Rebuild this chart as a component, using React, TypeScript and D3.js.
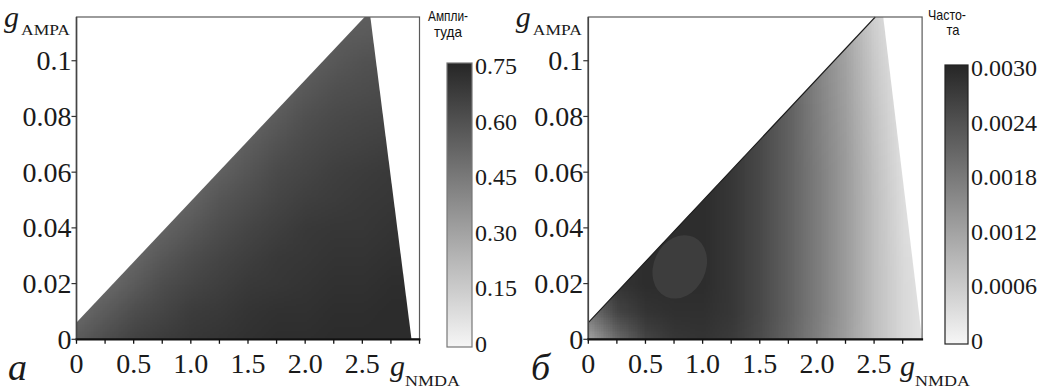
import React, { useMemo } from 'react';
import * as d3 from 'd3';

// sampling grid of both maps: g_NMDA (columns) x g_AMPA (rows, bottom row first)
const gridX = [0, 0.25, 0.5, 0.75, 1.0, 1.25, 1.5, 1.75, 2.0, 2.25, 2.5, 2.75, 3.0];
const gridY = [0, 0.01, 0.02, 0.03, 0.04, 0.05, 0.06, 0.07, 0.08, 0.09, 0.1, 0.11, 0.12];

// amplitude
const amplitude = [
  [0.56, 0.61, 0.65, 0.67, 0.69, 0.7, 0.71, 0.72, 0.72, 0.73, 0.73, 0.73, 0.73],
  [0.51, 0.56, 0.61, 0.64, 0.67, 0.68, 0.7, 0.71, 0.71, 0.72, 0.72, 0.73, 0.73],
  [0.49, 0.51, 0.56, 0.61, 0.64, 0.66, 0.68, 0.69, 0.7, 0.71, 0.71, 0.72, 0.72],
  [0.49, 0.49, 0.52, 0.57, 0.61, 0.64, 0.66, 0.68, 0.69, 0.7, 0.7, 0.71, 0.71],
  [0.49, 0.49, 0.49, 0.53, 0.57, 0.61, 0.64, 0.66, 0.68, 0.69, 0.69, 0.7, 0.7],
  [0.49, 0.49, 0.49, 0.5, 0.53, 0.58, 0.61, 0.64, 0.66, 0.67, 0.68, 0.69, 0.69],
  [0.49, 0.49, 0.49, 0.49, 0.5, 0.54, 0.58, 0.62, 0.64, 0.66, 0.67, 0.68, 0.68],
  [0.49, 0.49, 0.49, 0.49, 0.49, 0.51, 0.55, 0.59, 0.62, 0.64, 0.65, 0.66, 0.66],
  [0.49, 0.49, 0.49, 0.49, 0.49, 0.49, 0.52, 0.56, 0.6, 0.62, 0.63, 0.64, 0.64],
  [0.49, 0.49, 0.49, 0.49, 0.49, 0.49, 0.5, 0.53, 0.57, 0.6, 0.61, 0.62, 0.62],
  [0.49, 0.49, 0.49, 0.49, 0.49, 0.49, 0.49, 0.51, 0.54, 0.57, 0.59, 0.6, 0.6],
  [0.49, 0.49, 0.49, 0.49, 0.49, 0.49, 0.49, 0.49, 0.52, 0.55, 0.56, 0.57, 0.57],
  [0.49, 0.49, 0.49, 0.49, 0.49, 0.49, 0.49, 0.49, 0.5, 0.53, 0.54, 0.55, 0.55],
];

const frequency = [
  [1.2, 2.0, 2.55, 2.75, 2.8, 2.7, 2.45, 2.1, 1.7, 1.25, 0.8, 0.42, 0.2],
  [1.9, 2.55, 2.8, 2.85, 2.85, 2.75, 2.5, 2.15, 1.75, 1.3, 0.8, 0.42, 0.2],
  [2.4, 2.8, 2.9, 2.9, 2.9, 2.75, 2.5, 2.15, 1.75, 1.3, 0.8, 0.42, 0.2],
  [2.5, 2.8, 2.9, 2.9, 2.9, 2.75, 2.5, 2.15, 1.75, 1.3, 0.8, 0.4, 0.18],
  [2.5, 2.8, 2.9, 2.9, 2.9, 2.75, 2.5, 2.15, 1.75, 1.3, 0.8, 0.38, 0.15],
  [2.5, 2.8, 2.9, 2.9, 2.9, 2.75, 2.5, 2.15, 1.75, 1.3, 0.8, 0.36, 0.12],
  [2.5, 2.8, 2.9, 2.9, 2.9, 2.75, 2.5, 2.15, 1.75, 1.3, 0.78, 0.33, 0.1],
  [2.5, 2.8, 2.9, 2.9, 2.9, 2.75, 2.5, 2.15, 1.72, 1.28, 0.75, 0.3, 0.1],
  [2.5, 2.8, 2.9, 2.9, 2.9, 2.75, 2.5, 2.15, 1.7, 1.25, 0.72, 0.27, 0.1],
  [2.5, 2.8, 2.9, 2.9, 2.9, 2.75, 2.5, 2.15, 1.68, 1.22, 0.68, 0.24, 0.1],
  [2.5, 2.8, 2.9, 2.9, 2.9, 2.75, 2.5, 2.15, 1.65, 1.2, 0.64, 0.2, 0.1],
  [2.5, 2.8, 2.9, 2.9, 2.9, 2.75, 2.5, 2.15, 1.62, 1.15, 0.58, 0.18, 0.1],
  [2.5, 2.8, 2.9, 2.9, 2.9, 2.75, 2.5, 2.15, 1.6, 1.1, 0.52, 0.15, 0.1],
];

// borders of the oscillation region
const ampUpperEdge = [[0, 0.006], [2.52, 0.1157]];
const ampRightEdge = [[2.57, 0.1157], [2.93, 0]];
const freqUpperEdge = [[0, 0.006], [2.51, 0.1157]];
const freqRightEdge = [[2.58, 0.1157], [2.92, 0]];

// flat patch inside the frequency map: centre, half axes, tilt, level (x 1e-3)
const freqPlateau = { x: 0.8, y: 0.026, rx: 0.227, ry: 0.0118, angle: 25, value: 2.67 };

const xTicks = [0, 0.5, 1.0, 1.5, 2.0, 2.5];
const xTickLabels = ['0', '0.5', '1.0', '1.5', '2.0', '2.5'];
const yTicks = [0, 0.02, 0.04, 0.06, 0.08, 0.1];
const yTickLabels = ['0', '0.02', '0.04', '0.06', '0.08', '0.1'];
const ampBarTicks = [0, 0.15, 0.3, 0.45, 0.6, 0.75];
const ampBarLabels = ['0', '0.15', '0.30', '0.45', '0.60', '0.75'];
const freqBarTicks = [0, 0.6, 1.2, 1.8, 2.4, 3.0];
const freqBarLabels = ['0', '0.0006', '0.0012', '0.0018', '0.0024', '0.0030'];

const SERIF = "'Liberation Serif', 'Times New Roman', Tinos, 'DejaVu Serif', serif";
const SANS = "'Liberation Sans', Arial, 'DejaVu Sans', sans-serif";
const Y_MAX = 0.1157;
const TOP = 17;
const BOTTOM = 339.3;

const makeColor = (max: number) =>
  d3.scaleLinear<string>().domain([0, max]).range(['#f6f6f6', '#262626']).clamp(true);

// tiny bitmap, one pixel per grid node; the browser smooths it when stretched
function fieldImage(grid: number[][], color: (v: number) => string) {
  const ny = grid.length;
  const nx = grid[0].length;
  const canvas = document.createElement('canvas');
  canvas.width = nx;
  canvas.height = ny;
  const ctx = canvas.getContext('2d')!;
  const img = ctx.createImageData(nx, ny);
  for (let r = 0; r < ny; r++) {
    const row = grid[ny - 1 - r];
    for (let c = 0; c < nx; c++) {
      const col = d3.rgb(color(row[c]));
      const k = (r * nx + c) * 4;
      img.data[k] = col.r;
      img.data[k + 1] = col.g;
      img.data[k + 2] = col.b;
      img.data[k + 3] = 255;
    }
  }
  ctx.putImageData(img, 0, 0);
  return canvas.toDataURL();
}

interface PanelProps {
  id: string;
  x0: number;
  x1: number;
  xMax: number;
  grid: number[][];
  cmax: number;
  upper: number[][];
  rightEdge: number[][];
  outline?: boolean;
  plateau?: typeof freqPlateau;
  letter: string;
  letterX: number;
  nmdaX: number;
  bar: {
    x: number; top: number; bottom: number; w: number; ticks: number[]; labels: string[];
    title: string[]; titleX: number[]; titleY: number[]; titleW: number[]; stroke: string;
  };
}

const Panel: React.FC<PanelProps> = ({ id, x0, x1, xMax, grid, cmax, upper, rightEdge, outline, plateau, letter, letterX, nmdaX, bar }) => {
  const xs = d3.scaleLinear().domain([0, xMax]).range([x0, x1]);
  const ys = d3.scaleLinear().domain([0, Y_MAX]).range([BOTTOM, TOP]);
  const color = makeColor(cmax);
  const href = useMemo(() => fieldImage(grid, color), [grid, cmax]);

  const dx = xs(gridX[1]) - xs(gridX[0]);
  const dy = ys(gridY[0]) - ys(gridY[1]);
  const region = [...upper, ...rightEdge, [0, 0]];
  const line = d3.line<number[]>().x(d => xs(d[0])).y(d => ys(d[1]));
  const minor = d3.range(0, xMax + 1e-6, 0.25);

  const bs = d3.scaleLinear().domain([0, cmax]).range([bar.bottom, bar.top]);
  const stops = d3.range(0, 1.0001, 0.1);

  const serif = { fontFamily: SERIF };

  return (
    <g>
      <defs>
        <clipPath id={`clip-${id}`}>
          <path d={line(region as number[][])! + 'Z'} />
        </clipPath>
        <linearGradient id={`grad-${id}`} x1="0" y1="1" x2="0" y2="0">
          {stops.map(t => (
            <stop key={t} offset={t} stopColor={color(t * cmax)} />
          ))}
        </linearGradient>
      </defs>

      <g clipPath={`url(#clip-${id})`}>
        <image
          href={href}
          x={xs(gridX[0]) - dx / 2}
          y={ys(gridY[gridY.length - 1]) - dy / 2}
          width={dx * gridX.length}
          height={dy * gridY.length}
          preserveAspectRatio="none"
        />
        {plateau && (
          <ellipse
            cx={xs(plateau.x)}
            cy={ys(plateau.y)}
            rx={xs(plateau.rx) - xs(0)}
            ry={ys(0) - ys(plateau.ry)}
            transform={`rotate(${plateau.angle} ${xs(plateau.x)} ${ys(plateau.y)})`}
            fill={color(plateau.value)}
          />
        )}
      </g>
      {outline && <path d={line(upper)!} fill="none" stroke="#1a1a1a" strokeWidth={1.1} />}

      {/* frame and axes */}
      <rect x={x0} y={TOP} width={x1 - x0} height={BOTTOM - TOP} fill="none" stroke="#5a5a5a" strokeWidth={1.2} />
      <line x1={x0} x2={x0} y1={TOP} y2={BOTTOM} stroke="#444" strokeWidth={1.6} />
      <line x1={x0 - 1} x2={x1 + 1} y1={BOTTOM} y2={BOTTOM} stroke="#111" strokeWidth={2.2} />
      {minor.map(t => (
        <line key={t} x1={xs(t)} x2={xs(t)} y1={BOTTOM} y2={BOTTOM + 4.5} stroke="#111" strokeWidth={1.3} />
      ))}
      {yTicks.map(t => (
        <line key={t} x1={x0 - 5} x2={x0} y1={ys(t)} y2={ys(t)} stroke="#333" strokeWidth={1.2} />
      ))}

      <g style={serif} fontSize={28} fill="#1a1a1a">
        {xTicks.map((t, i) => (
          <text key={t} x={xs(t)} y={373} textAnchor="middle">{xTickLabels[i]}</text>
        ))}
        {yTicks.map((t, i) => (
          <text key={t} x={x0 - 5} y={ys(t) + 9.5} textAnchor="end">{yTickLabels[i]}</text>
        ))}
      </g>

      {/* axis names */}
      <g style={serif} fill="#1a1a1a">
        <text x={x0 - 72.5} y={27} fontSize={30} fontStyle="italic">g</text>
        <text x={x0 - 55.5} y={35} fontSize={14} textLength={49} lengthAdjust="spacingAndGlyphs">AMPA</text>
        <text x={nmdaX} y={376} fontSize={30} fontStyle="italic">g</text>
        <text x={nmdaX + 15} y={386} fontSize={14} textLength={55} lengthAdjust="spacingAndGlyphs">NMDA</text>
        <text x={letterX} y={380} fontSize={38} fontStyle="italic">{letter}</text>
      </g>

      {/* colour bar */}
      <rect x={bar.x} y={bar.top - 3} width={bar.w} height={bar.bottom - bar.top + 6} fill={`url(#grad-${id})`} stroke={bar.stroke} strokeWidth={1.2} />
      <g style={serif} fontSize={24} fill="#1a1a1a">
        {bar.ticks.map((t, i) => (
          <text key={t} x={bar.x + bar.w + 3} y={bs(t) + 8}>{bar.labels[i]}</text>
        ))}
      </g>
      <g style={{ fontFamily: SANS }} fontSize={15} fill="#111">
        {bar.title.map((s, i) => (
          <text
            key={s}
            x={bar.titleX[i] - bar.titleW[i] / 2}
            y={bar.titleY[i]}
            textLength={bar.titleW[i]}
            lengthAdjust="spacingAndGlyphs"
          >
            {s}
          </text>
        ))}
      </g>
    </g>
  );
};

export default function App() {
  return (
    <svg
      width={1042}
      height={389}
      style={{ position: 'absolute', left: 0, top: 0, background: '#fff' }}
    >
      <rect width={1042} height={389} fill="#fff" />
      <Panel
        id="amp"
        x0={76.5}
        x1={419.5}
        xMax={3}
        grid={amplitude}
        cmax={0.75}
        upper={ampUpperEdge}
        rightEdge={ampRightEdge}
        letter="а"
        letterX={8}
        nmdaX={390}
        bar={{
          x: 447, top: 66, bottom: 344, w: 25,
          ticks: ampBarTicks, labels: ampBarLabels,
          title: ['Ампли-', 'туда'], titleX: [448, 448], titleY: [21, 37], titleW: [40, 28], stroke: '#777',
        }}
      />
      <Panel
        id="freq"
        x0={588.3}
        x1={922.1}
        xMax={2.92}
        grid={frequency}
        cmax={3}
        upper={freqUpperEdge}
        rightEdge={freqRightEdge}
        outline
        plateau={freqPlateau}
        letter="б"
        letterX={531}
        nmdaX={900}
        bar={{
          x: 945, top: 68, bottom: 341, w: 23,
          ticks: freqBarTicks, labels: freqBarLabels,
          title: ['Часто-', 'та'], titleX: [947, 953], titleY: [20, 35], titleW: [38, 13], stroke: '#222',
        }}
      />
    </svg>
  );
}
